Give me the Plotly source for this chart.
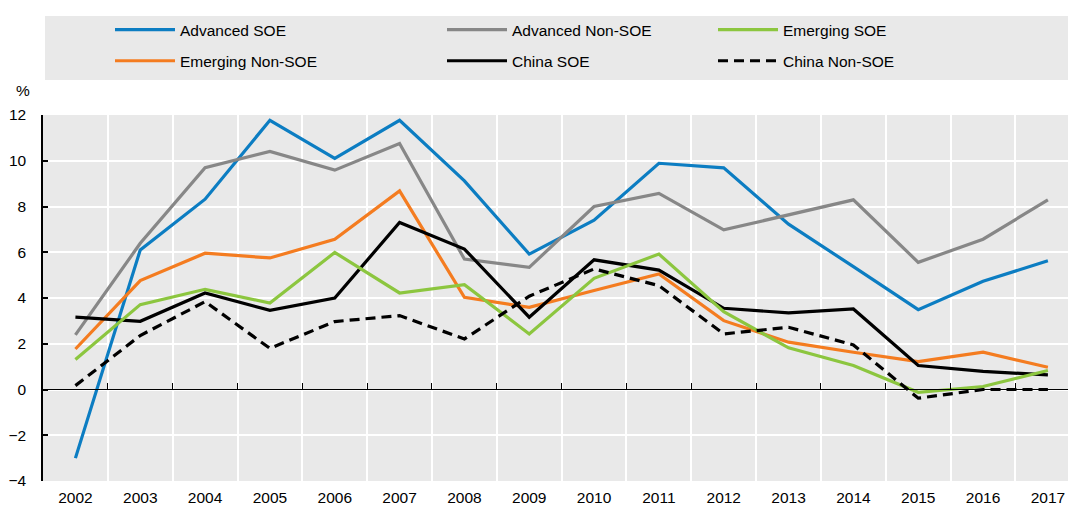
import plotly.graph_objects as go

years = [str(y) for y in range(2002, 2018)]

advanced_soe = [-3.0, 6.1, 8.32, 11.77, 10.1, 11.77, 9.12, 5.92, 7.4, 9.89, 9.69, 7.23, 5.37, 3.49, 4.73, 5.63]
advanced_non_soe = [2.39, 6.39, 9.7, 10.41, 9.59, 10.75, 5.7, 5.34, 8.0, 8.57, 6.98, 7.64, 8.29, 5.56, 6.57, 8.29]
emerging_soe = [1.31, 3.71, 4.38, 3.78, 5.99, 4.22, 4.58, 2.43, 4.86, 5.92, 3.4, 1.82, 1.05, -0.12, 0.13, 0.83]
emerging_non_soe = [1.77, 4.76, 5.96, 5.75, 6.57, 8.68, 4.03, 3.59, 4.33, 5.05, 3.01, 2.07, 1.63, 1.22, 1.63, 0.97]
china_soe = [3.16, 2.98, 4.22, 3.46, 4.0, 7.3, 6.14, 3.16, 5.67, 5.22, 3.55, 3.35, 3.52, 1.05, 0.79, 0.64]
china_non_soe = [0.17, 2.36, 3.84, 1.8, 2.97, 3.23, 2.21, 4.08, 5.27, 4.54, 2.43, 2.72, 1.95, -0.38, 0.0, 0.0]

y_ticks = [-4, -2, 0, 2, 4, 6, 8, 10, 12]

FONT = "Liberation Sans, Arial, sans-serif"
FS = 15.5
BG = "#E9E9E9"

xpos = list(range(len(years)))
xrange_ = [-0.5, 15.31]
bounds = [i + 0.5 for i in xpos[:-1]]

series = [
    ("Advanced SOE", advanced_soe, "#0C7DC2", "solid", "legend"),
    ("Emerging Non-SOE", emerging_non_soe, "#F47C20", "solid", "legend"),
    ("Advanced Non-SOE", advanced_non_soe, "#878787", "solid", "legend2"),
    ("China SOE", china_soe, "#000000", "solid", "legend2"),
    ("Emerging SOE", emerging_soe, "#8CC63F", "solid", "legend3"),
    ("China Non-SOE", china_non_soe, "#000000", "10px,6px", "legend3"),
]

fig = go.Figure()
for name, vals, color, dash, leg in series:
    fig.add_trace(go.Scatter(
        x=xpos, y=vals, name=name, mode="lines",
        line=dict(color=color, width=3.2, dash=dash),
        legend=leg, legendgroup=name,
    ))

# invisible helper trace so the zero-line tick axis renders
fig.add_trace(go.Scatter(x=[xpos[0]], y=[0], xaxis="x2", mode="lines",
                         showlegend=False, hoverinfo="skip", line=dict(width=0)))

W, H = 1068, 506
L, R, T, B = 43, 0, 115, 25
plot_h = H - T - B

def py(pix):
    return (H - B - pix) / plot_h

leg_common = dict(
    xref="container", yref="container", orientation="v",
    bgcolor="rgba(0,0,0,0)", font=dict(family=FONT, size=FS, color="#000"),
    tracegroupgap=8, itemwidth=60, xanchor="left", yanchor="top",
)

fig.update_layout(
    width=W, height=H,
    margin=dict(l=L, r=R, t=T, b=B, autoexpand=False),
    paper_bgcolor="white", plot_bgcolor=BG,
    font=dict(family=FONT, size=FS, color="#000"),
    legend=dict(x=110 / W, y=1 - 13 / H, **leg_common),
    legend2=dict(x=442 / W, y=1 - 13 / H, **leg_common),
    legend3=dict(x=713 / W, y=1 - 13 / H, **leg_common),
    xaxis=dict(
        range=xrange_, tickmode="array", tickvals=xpos, ticktext=years,
        showgrid=False, showline=False, ticks="", zeroline=False,
        ticklabelstandoff=5,
        tickfont=dict(family=FONT, size=FS, color="#000"),
        minor=dict(tickmode="array", tickvals=bounds,
                   showgrid=True, gridcolor="white", gridwidth=1.5, ticks=""),
    ),
    xaxis2=dict(
        range=xrange_, overlaying="x", anchor="free", position=py(388.9),
        showline=True, linecolor="#000", linewidth=1.3,
        tickmode="array", tickvals=bounds,
        ticks="inside", ticklen=6, tickwidth=1.3, tickcolor="#000",
        showticklabels=False, showgrid=False, zeroline=False,
    ),
    yaxis=dict(
        range=[-4, 12], tickvals=y_ticks, showgrid=True, gridcolor="white", gridwidth=1.5,
        zeroline=False, showline=True, linecolor="#000", linewidth=1.5,
        ticks="inside", ticklen=5, tickwidth=1.5, tickcolor="#000",
        ticklabelstandoff=12,
        tickfont=dict(family=FONT, size=FS, color="#000"),
    ),
    shapes=[dict(type="rect", xref="paper", yref="paper",
                 x0=(45 - L) / (W - L), x1=1.02, y0=py(80), y1=py(16),
                 fillcolor=BG, line=dict(width=0), layer="below")],
    annotations=[dict(text="%", xref="paper", yref="paper", x=(23 - L) / (W - L), y=py(91),
                      showarrow=False, font=dict(family=FONT, size=FS, color="#000"),
                      xanchor="center", yanchor="middle")],
)

fig.write_html(
    "out.html",
    config={"displayModeBar": False},
    post_script="document.body.style.margin='0';"
                "document.body.style.overflow='hidden';"
                "document.documentElement.style.overflow='hidden';",
)
